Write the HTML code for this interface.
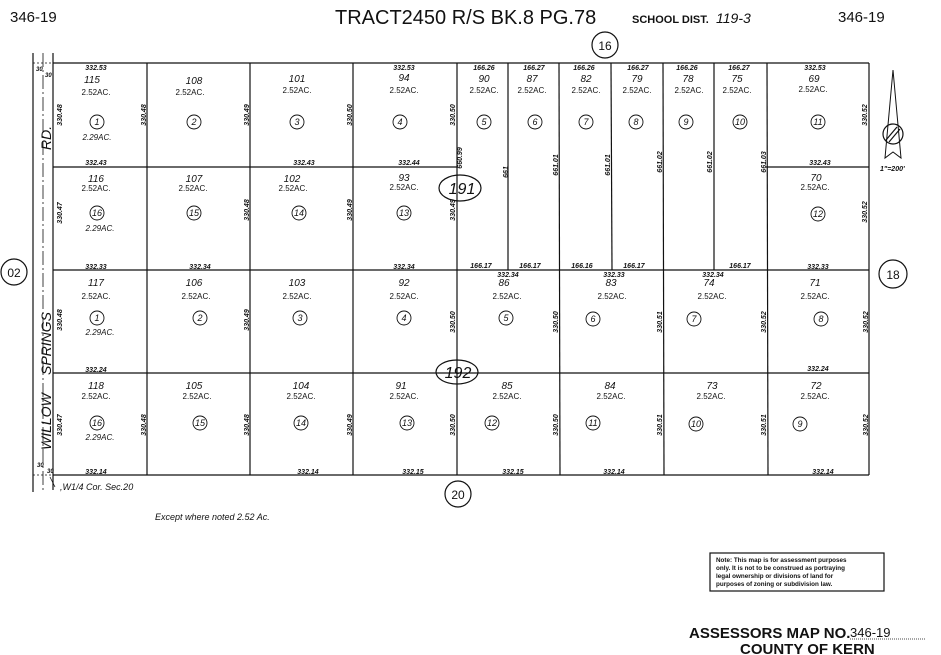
<!DOCTYPE html>
<html><head><meta charset="utf-8"><style>
html,body{margin:0;padding:0;background:#fff;}
svg{display:block;}
text{font-family:"Liberation Sans",sans-serif;fill:#111;}
.n{font-size:10px;font-style:italic;text-anchor:middle;}
.a{font-size:8px;text-anchor:middle;}
.d{font-size:7px;font-style:italic;font-weight:bold;text-anchor:middle;}
.c{font-size:9px;font-style:italic;text-anchor:middle;}
</style></head><body>
<svg width="941" height="655" viewBox="0 0 941 655" xmlns="http://www.w3.org/2000/svg">
<rect width="941" height="655" fill="#fff"/>
<!-- header -->
<text x="10" y="22" font-size="15">346-19</text>
<text x="335" y="24" font-size="20">TRACT2450 R/S BK.8 PG.78</text>
<text x="632" y="23" font-size="11" font-weight="bold">SCHOOL DIST.</text>
<text x="716" y="23" font-size="14" font-style="italic">119-3</text>
<text x="838" y="22" font-size="15">346-19</text>
<g stroke="#111" fill="none" stroke-width="1.2">
<!-- road -->
<line x1="33" y1="53" x2="33" y2="492"/>
<line x1="43" y1="53" x2="43" y2="492" stroke-dasharray="14 3 2 3" stroke-width="0.8"/>
<line x1="53" y1="53" x2="53" y2="490"/>
<!-- outer -->
<line x1="53" y1="63" x2="869" y2="63"/>
<line x1="53" y1="270" x2="869" y2="270"/>
<line x1="53" y1="475" x2="869" y2="475"/>
<line x1="53" y1="167" x2="457" y2="167"/>
<line x1="766" y1="167" x2="869" y2="167"/>
<line x1="53" y1="373" x2="869" y2="373"/>
<line x1="869" y1="63" x2="869" y2="475"/>
<line x1="147" y1="63" x2="147" y2="475"/>
<line x1="250" y1="63" x2="250" y2="475"/>
<line x1="353" y1="63" x2="353" y2="475"/>
<line x1="457" y1="63" x2="457" y2="475"/>
<line x1="508" y1="63" x2="508" y2="270"/>
<line x1="559" y1="63" x2="560" y2="475"/>
<line x1="611" y1="63" x2="612" y2="270"/>
<line x1="663" y1="63" x2="664" y2="475"/>
<line x1="714" y1="63" x2="714" y2="270"/>
<line x1="767" y1="63" x2="768" y2="475"/>
<line x1="33" y1="63" x2="53" y2="63" stroke-dasharray="2 2" stroke-width="0.7"/>
<line x1="33" y1="475" x2="53" y2="475" stroke-dasharray="2 2" stroke-width="0.7"/>
<!-- circles -->
<circle cx="605" cy="45" r="13"/>
<circle cx="14" cy="272" r="13"/>
<circle cx="893" cy="274" r="14"/>
<circle cx="458" cy="494" r="13"/>
<ellipse cx="460" cy="188" rx="21" ry="13"/>
<ellipse cx="457" cy="372" rx="21" ry="12"/>
<!-- north arrow -->
<path d="M893 70 L885 158 L893 152 L901 158 Z" stroke-width="1"/>
<circle cx="893" cy="134" r="10"/>
<line x1="886" y1="140" x2="897" y2="127"/>
<line x1="889" y1="142" x2="900" y2="129"/>
<path d="M55 487 L50 477" stroke-width="0.8"/>
</g>
<g stroke="#111" fill="none" stroke-width="0.9">
<circle cx="97" cy="122" r="7"/><circle cx="194" cy="122" r="7"/><circle cx="297" cy="122" r="7"/><circle cx="400" cy="122" r="7"/>
<circle cx="484" cy="122" r="7"/><circle cx="535" cy="122" r="7"/><circle cx="586" cy="122" r="7"/><circle cx="636" cy="122" r="7"/>
<circle cx="686" cy="122" r="7"/><circle cx="740" cy="122" r="7"/><circle cx="818" cy="122" r="7"/>
<circle cx="97" cy="213" r="7"/><circle cx="194" cy="213" r="7"/><circle cx="299" cy="213" r="7"/><circle cx="404" cy="213" r="7"/><circle cx="818" cy="214" r="7"/>
<circle cx="97" cy="318" r="7"/><circle cx="200" cy="318" r="7"/><circle cx="300" cy="318" r="7"/><circle cx="404" cy="318" r="7"/>
<circle cx="506" cy="318" r="7"/><circle cx="593" cy="319" r="7"/><circle cx="694" cy="319" r="7"/><circle cx="821" cy="319" r="7"/>
<circle cx="97" cy="423" r="7"/><circle cx="200" cy="423" r="7"/><circle cx="301" cy="423" r="7"/><circle cx="407" cy="423" r="7"/>
<circle cx="492" cy="423" r="7"/><circle cx="593" cy="423" r="7"/><circle cx="696" cy="424" r="7"/><circle cx="800" cy="424" r="7"/>
</g>
<!-- circle labels -->
<text x="605" y="50" font-size="12" text-anchor="middle">16</text>
<text x="14" y="277" font-size="12" text-anchor="middle">02</text>
<text x="893" y="279" font-size="12" text-anchor="middle">18</text>
<text x="458" y="499" font-size="12" text-anchor="middle">20</text>
<text x="462" y="194" font-size="16" font-style="italic" text-anchor="middle">191</text>
<text x="458" y="378" font-size="16" font-style="italic" text-anchor="middle">192</text>
<g class="c">
<text x="97" y="125" class="c">1</text><text x="194" y="125" class="c">2</text><text x="297" y="125" class="c">3</text><text x="400" y="125" class="c">4</text>
<text x="484" y="125" class="c">5</text><text x="535" y="125" class="c">6</text><text x="586" y="125" class="c">7</text><text x="636" y="125" class="c">8</text>
<text x="686" y="125" class="c">9</text><text x="740" y="125" class="c">10</text><text x="818" y="125" class="c">11</text>
<text x="97" y="216" class="c">16</text><text x="194" y="216" class="c">15</text><text x="299" y="216" class="c">14</text><text x="404" y="216" class="c">13</text><text x="818" y="217" class="c">12</text>
<text x="97" y="321" class="c">1</text><text x="200" y="321" class="c">2</text><text x="300" y="321" class="c">3</text><text x="404" y="321" class="c">4</text>
<text x="506" y="321" class="c">5</text><text x="593" y="322" class="c">6</text><text x="694" y="322" class="c">7</text><text x="821" y="322" class="c">8</text>
<text x="97" y="426" class="c">16</text><text x="200" y="426" class="c">15</text><text x="301" y="426" class="c">14</text><text x="407" y="426" class="c">13</text>
<text x="492" y="426" class="c">12</text><text x="593" y="426" class="c">11</text><text x="696" y="427" class="c">10</text><text x="800" y="427" class="c">9</text>
</g>
<!-- APNs -->
<g>
<text class="n" x="92" y="83">115</text><text class="n" x="194" y="84">108</text><text class="n" x="297" y="82">101</text><text class="n" x="404" y="81">94</text>
<text class="n" x="484" y="82">90</text><text class="n" x="532" y="82">87</text><text class="n" x="586" y="82">82</text><text class="n" x="637" y="82">79</text>
<text class="n" x="688" y="82">78</text><text class="n" x="737" y="82">75</text><text class="n" x="814" y="82">69</text>
<text class="n" x="96" y="182">116</text><text class="n" x="194" y="182">107</text><text class="n" x="292" y="182">102</text><text class="n" x="404" y="181">93</text><text class="n" x="816" y="181">70</text>
<text class="n" x="96" y="286">117</text><text class="n" x="194" y="286">106</text><text class="n" x="297" y="286">103</text><text class="n" x="404" y="286">92</text>
<text class="n" x="504" y="286">86</text><text class="n" x="611" y="286">83</text><text class="n" x="709" y="286">74</text><text class="n" x="815" y="286">71</text>
<text class="n" x="96" y="389">118</text><text class="n" x="194" y="389">105</text><text class="n" x="301" y="389">104</text><text class="n" x="401" y="389">91</text>
<text class="n" x="507" y="389">85</text><text class="n" x="610" y="389">84</text><text class="n" x="712" y="389">73</text><text class="n" x="816" y="389">72</text>
</g>
<g>
<text class="a" x="96" y="95">2.52AC.</text><text class="a" x="190" y="95">2.52AC.</text><text class="a" x="297" y="93">2.52AC.</text><text class="a" x="404" y="93">2.52AC.</text>
<text class="a" x="484" y="93">2.52AC.</text><text class="a" x="532" y="93">2.52AC.</text><text class="a" x="586" y="93">2.52AC.</text><text class="a" x="637" y="93">2.52AC.</text>
<text class="a" x="689" y="93">2.52AC.</text><text class="a" x="737" y="93">2.52AC.</text><text class="a" x="813" y="92">2.52AC.</text>
<text class="a" x="96" y="191">2.52AC.</text><text class="a" x="193" y="191">2.52AC.</text><text class="a" x="293" y="191">2.52AC.</text><text class="a" x="404" y="190">2.52AC.</text><text class="a" x="815" y="190">2.52AC.</text>
<text class="a" x="96" y="299">2.52AC.</text><text class="a" x="196" y="299">2.52AC.</text><text class="a" x="297" y="299">2.52AC.</text><text class="a" x="404" y="299">2.52AC.</text>
<text class="a" x="507" y="299">2.52AC.</text><text class="a" x="612" y="299">2.52AC.</text><text class="a" x="712" y="299">2.52AC.</text><text class="a" x="815" y="299">2.52AC.</text>
<text class="a" x="96" y="399">2.52AC.</text><text class="a" x="197" y="399">2.52AC.</text><text class="a" x="301" y="399">2.52AC.</text><text class="a" x="404" y="399">2.52AC.</text>
<text class="a" x="507" y="399">2.52AC.</text><text class="a" x="611" y="399">2.52AC.</text><text class="a" x="711" y="399">2.52AC.</text><text class="a" x="815" y="399">2.52AC.</text>
<text class="a" x="97" y="140" font-style="italic" font-size="10">2.29AC.</text>
<text class="a" x="100" y="231" font-style="italic" font-size="10">2.29AC.</text>
<text class="a" x="100" y="335" font-style="italic" font-size="10">2.29AC.</text>
<text class="a" x="100" y="440" font-style="italic" font-size="10">2.29AC.</text>
</g>
<!-- horizontal dims -->
<g class="d">
<text x="96" y="70">332.53</text><text x="404" y="70">332.53</text>
<text x="484" y="70">166.26</text><text x="534" y="70">166.27</text><text x="584" y="70">166.26</text><text x="638" y="70">166.27</text><text x="687" y="70">166.26</text><text x="739" y="70">166.27</text><text x="815" y="70">332.53</text>
<text x="96" y="165">332.43</text><text x="304" y="165">332.43</text><text x="409" y="165">332.44</text><text x="820" y="165">332.43</text>
<text x="96" y="269">332.33</text><text x="200" y="269">332.34</text><text x="404" y="269">332.34</text>
<text x="481" y="268">166.17</text><text x="530" y="268">166.17</text><text x="582" y="268">166.16</text><text x="634" y="268">166.17</text><text x="740" y="268">166.17</text><text x="818" y="269">332.33</text>
<text x="508" y="277">332.34</text><text x="614" y="277">332.33</text><text x="713" y="277">332.34</text>
<text x="96" y="372">332.24</text><text x="818" y="371">332.24</text>
<text x="96" y="474">332.14</text><text x="308" y="474">332.14</text><text x="413" y="474">332.15</text><text x="513" y="474">332.15</text><text x="614" y="474">332.14</text><text x="823" y="474">332.14</text>
</g>
<!-- vertical dims -->
<g class="d">
<text transform="translate(62,115) rotate(-90)">330.48</text><text transform="translate(146,115) rotate(-90)">330.48</text><text transform="translate(249,115) rotate(-90)">330.49</text><text transform="translate(352,115) rotate(-90)">330.50</text><text transform="translate(455,115) rotate(-90)">330.50</text><text transform="translate(867,115) rotate(-90)">330.52</text>
<text transform="translate(62,213) rotate(-90)">330.47</text><text transform="translate(249,210) rotate(-90)">330.48</text><text transform="translate(352,210) rotate(-90)">330.49</text><text transform="translate(455,210) rotate(-90)">330.49</text><text transform="translate(867,212) rotate(-90)">330.52</text>
<text transform="translate(462,158) rotate(-90)">660.99</text><text transform="translate(508,172) rotate(-90)">661</text><text transform="translate(558,165) rotate(-90)">661.01</text><text transform="translate(610,165) rotate(-90)">661.01</text><text transform="translate(662,162) rotate(-90)">661.02</text><text transform="translate(712,162) rotate(-90)">661.02</text><text transform="translate(766,162) rotate(-90)">661.03</text>
<text transform="translate(62,320) rotate(-90)">330.48</text><text transform="translate(249,320) rotate(-90)">330.49</text><text transform="translate(455,322) rotate(-90)">330.50</text><text transform="translate(558,322) rotate(-90)">330.50</text><text transform="translate(662,322) rotate(-90)">330.51</text><text transform="translate(766,322) rotate(-90)">330.52</text><text transform="translate(868,322) rotate(-90)">330.52</text>
<text transform="translate(62,425) rotate(-90)">330.47</text><text transform="translate(146,425) rotate(-90)">330.48</text><text transform="translate(249,425) rotate(-90)">330.48</text><text transform="translate(352,425) rotate(-90)">330.49</text><text transform="translate(455,425) rotate(-90)">330.50</text><text transform="translate(558,425) rotate(-90)">330.50</text><text transform="translate(662,425) rotate(-90)">330.51</text><text transform="translate(766,425) rotate(-90)">330.51</text><text transform="translate(868,425) rotate(-90)">330.52</text>
</g>
<text x="36" y="71" font-size="6" font-style="italic" font-weight="bold">30</text>
<text x="45" y="77" font-size="6" font-style="italic" font-weight="bold">30</text>
<text x="37" y="467" font-size="6" font-style="italic" font-weight="bold">30</text>
<text x="47" y="473" font-size="6" font-style="italic" font-weight="bold">30</text>
<!-- road names -->
<text transform="translate(51,150) rotate(-90)" font-size="14" font-style="italic">RD.</text>
<text transform="translate(51,375) rotate(-90)" font-size="14" font-style="italic">SPRINGS</text>
<text transform="translate(51,450) rotate(-90)" font-size="14" font-style="italic">WILLOW</text>
<text x="60" y="490" font-size="9" font-style="italic">,W1/4 Cor. Sec.20</text>
<text x="155" y="520" font-size="9" font-style="italic">Except  where noted  2.52 Ac.</text>
<text x="880" y="171" font-size="7" font-style="italic" font-weight="bold">1"=200'</text>
<!-- note -->
<rect x="710" y="553" width="174" height="38" fill="none" stroke="#111" stroke-width="1.2"/>
<g font-size="6.3" font-weight="bold">
<text x="716" y="562">Note: This map is for assessment purposes</text>
<text x="716" y="570">only. It is not to be construed as portraying</text>
<text x="716" y="578">legal ownership or divisions of land for</text>
<text x="716" y="586">purposes of zoning or subdivision law.</text>
</g>
<text x="689" y="638" font-size="15" font-weight="bold">ASSESSORS MAP NO.</text>
<text x="850" y="637" font-size="13">346-19</text>
<line x1="850" y1="639" x2="926" y2="639" stroke="#111" stroke-dasharray="1 1" stroke-width="0.8"/>
<text x="740" y="654" font-size="15" font-weight="bold">COUNTY OF KERN</text>
</svg>
</body></html>
